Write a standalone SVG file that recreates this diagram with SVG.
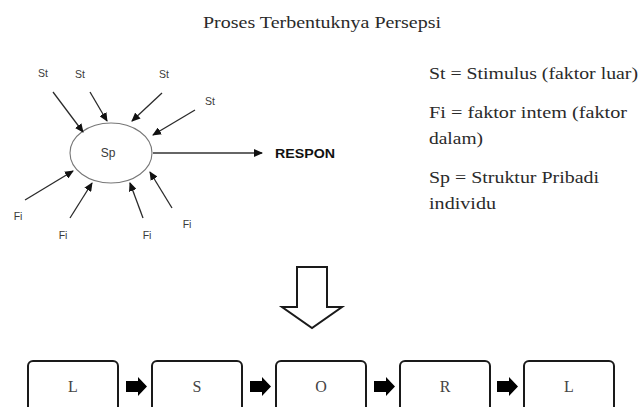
<svg xmlns="http://www.w3.org/2000/svg" width="642" height="407" viewBox="0 0 642 407">
  <style>
    .serif { font-family: "Liberation Serif", "Times New Roman", serif; fill: #2a2a2a; }
    .lbl { font-family: "Liberation Sans", Arial, sans-serif; font-size: 10.5px; fill: #3a3a3a; text-anchor: middle; }
    .sp { font-size: 12px; }
    .thin { stroke: #2a2a2a; stroke-width: 1.3; fill: none; marker-end: url(#tip); }
    .box { fill: #fff; stroke: #1a1a1a; stroke-width: 2; }
    .boxtxt { font-family: "Liberation Serif", "Times New Roman", serif; font-size: 16px; fill: #444; text-anchor: middle; }
    .block { fill: #000; }
  </style>
  <defs>
    <marker id="tip" markerUnits="userSpaceOnUse" markerWidth="9" markerHeight="8" refX="8" refY="4" orient="auto">
      <path d="M0,0 L9,4 L0,8 Z" fill="#111"/>
    </marker>
  </defs>

  <rect width="642" height="407" fill="#fff"/>

  <!-- title -->
  <text class="serif" x="203" y="28" font-size="17" textLength="238" lengthAdjust="spacingAndGlyphs">Proses Terbentuknya Persepsi</text>

  <!-- central personal-structure node -->
  <g id="node-sp">
    <ellipse cx="111" cy="153" rx="41" ry="30" fill="#fff" stroke="#777" stroke-width="1.1"/>
    <text class="lbl sp" x="108" y="157">Sp</text>
  </g>

  <!-- stimulus labels -->
  <g id="node-st1"><text class="lbl" x="43" y="77">St</text></g>
  <g id="node-st2"><text class="lbl" x="80" y="78">St</text></g>
  <g id="node-st3"><text class="lbl" x="164" y="78">St</text></g>
  <g id="node-st4"><text class="lbl" x="210" y="105">St</text></g>

  <!-- internal factor labels -->
  <g id="node-fi1"><text class="lbl" x="18" y="220">Fi</text></g>
  <g id="node-fi2"><text class="lbl" x="63" y="239">Fi</text></g>
  <g id="node-fi3"><text class="lbl" x="147" y="239">Fi</text></g>
  <g id="node-fi4"><text class="lbl" x="187" y="228">Fi</text></g>

  <!-- response label -->
  <g id="node-respon">
    <text x="275" y="158" font-family="Liberation Sans, Arial, sans-serif" font-weight="bold" font-size="13" fill="#111" textLength="60" lengthAdjust="spacingAndGlyphs">RESPON</text>
  </g>

  <!-- legend -->
  <g id="legend" class="serif" font-size="17">
    <text x="429" y="79" textLength="209" lengthAdjust="spacingAndGlyphs">St = Stimulus (faktor luar)</text>
    <text x="429" y="118" textLength="198" lengthAdjust="spacingAndGlyphs">Fi = faktor intem (faktor</text>
    <text x="429" y="144" textLength="54" lengthAdjust="spacingAndGlyphs">dalam)</text>
    <text x="429" y="183" textLength="170" lengthAdjust="spacingAndGlyphs">Sp = Struktur Pribadi</text>
    <text x="429" y="209" textLength="67" lengthAdjust="spacingAndGlyphs">individu</text>
  </g>

  <!-- hollow down arrow -->
  <g id="node-down-arrow">
    <polygon points="297,267 327,267 327,307 342,307 312,328 282,307 297,307" fill="#fff" stroke="#1a1a1a" stroke-width="2" stroke-linejoin="miter"/>
  </g>

  <!-- L S O R L chain -->
  <g id="node-l1"><rect class="box" x="28" y="361" width="90" height="60" rx="5"/><text class="boxtxt" x="73" y="392">L</text></g>
  <g id="node-s"><rect class="box" x="152" y="361" width="90" height="60" rx="5"/><text class="boxtxt" x="197" y="392">S</text></g>
  <g id="node-o"><rect class="box" x="276" y="361" width="90" height="60" rx="5"/><text class="boxtxt" x="321" y="392">O</text></g>
  <g id="node-r"><rect class="box" x="400" y="361" width="90" height="60" rx="5"/><text class="boxtxt" x="445" y="392">R</text></g>
  <g id="node-l2"><rect class="box" x="524" y="361" width="90" height="60" rx="5"/><text class="boxtxt" x="569" y="392">L</text></g>

  <!-- connectors -->
  <g id="connectors">
    <!-- stimuli into Sp -->
    <line class="thin" x1="53" y1="92" x2="83" y2="132"/>
    <line class="thin" x1="90" y1="92" x2="107" y2="121"/>
    <line class="thin" x1="162" y1="93" x2="132" y2="121"/>
    <line class="thin" x1="195" y1="110" x2="153" y2="135"/>
    <!-- internal factors into Sp -->
    <line class="thin" x1="25" y1="200" x2="73" y2="171"/>
    <line class="thin" x1="70" y1="218" x2="92" y2="183"/>
    <line class="thin" x1="143" y1="218" x2="130" y2="183"/>
    <line class="thin" x1="172" y1="208" x2="150" y2="172"/>
    <!-- Sp to response -->
    <line x1="153" y1="153" x2="262" y2="153" stroke="#666" stroke-width="2" marker-end="url(#tip)"/>
    <!-- block arrows between boxes -->
    <path class="block" d="M126,381 L138,381 L138,377 L147,386.5 L138,396 L138,392 L126,392 Z"/>
    <path class="block" d="M250,381 L262,381 L262,377 L271,386.5 L262,396 L262,392 L250,392 Z"/>
    <path class="block" d="M374,381 L386,381 L386,377 L395,386.5 L386,396 L386,392 L374,392 Z"/>
    <path class="block" d="M497,381 L509,381 L509,377 L518,386.5 L509,396 L509,392 L497,392 Z"/>
  </g>
</svg>
